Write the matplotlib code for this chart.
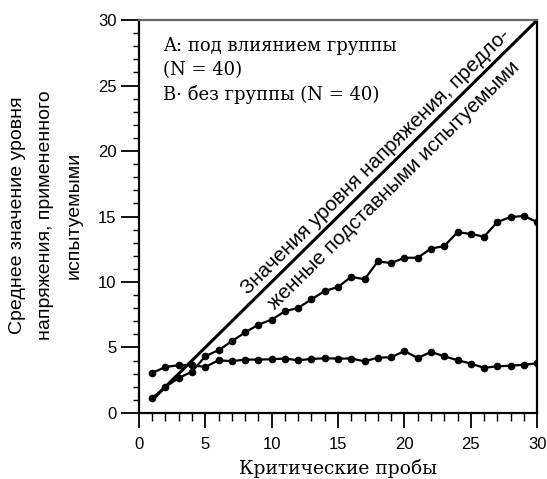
import matplotlib
matplotlib.use("Agg")
from matplotlib import pyplot as plt
from matplotlib.ticker import MultipleLocator

trials = list(range(1, 31))

# mean shock level, group-influenced subjects (A)
group_a = [1.15, 1.98, 2.67, 3.15, 4.33, 4.79, 5.47, 6.15, 6.74, 7.12,
           7.76, 8.02, 8.68, 9.31, 9.62, 10.40, 10.20, 11.58, 11.44, 11.85,
           11.85, 12.55, 12.74, 13.80, 13.67, 13.46, 14.58, 14.96, 15.04, 14.58]

# mean shock level, no group (B)
group_b = [3.05, 3.51, 3.64, 3.64, 3.51, 4.02, 3.95, 4.07, 4.07, 4.10,
           4.15, 4.02, 4.12, 4.17, 4.15, 4.15, 3.94, 4.22, 4.25, 4.72,
           4.20, 4.65, 4.33, 4.02, 3.77, 3.44, 3.56, 3.60, 3.68, 3.78]

# levels suggested by the confederates
suggested_x = [1, 30]
suggested_y = [1, 30]

fig = plt.figure(figsize=(5.47, 4.79), dpi=100)
ax = fig.add_axes([0.254, 0.138, 0.728, 0.820])

ax.plot(suggested_x, suggested_y, color="black", lw=2.2)
ax.plot(trials, group_a, color="black", lw=1.6, marker="o", ms=4.5)
ax.plot(trials, group_b, color="black", lw=1.6, marker="o", ms=4.5)

ax.set_xlim(0, 30)
ax.set_ylim(0, 30)
ax.xaxis.set_major_locator(MultipleLocator(5))
ax.xaxis.set_minor_locator(MultipleLocator(1))
ax.yaxis.set_major_locator(MultipleLocator(5))
ax.yaxis.set_minor_locator(MultipleLocator(1))
ax.tick_params(axis="x", which="major", direction="out", length=11,
               width=1.3, labelsize=12, pad=6)
ax.tick_params(axis="x", which="minor", direction="out", length=5.5, width=1)
ax.tick_params(axis="y", which="major", direction="out", length=13,
               width=1.3, labelsize=12, pad=3)
ax.tick_params(axis="y", which="minor", direction="out", length=4.5, width=1)
for lbl in ax.get_xticklabels() + ax.get_yticklabels():
    lbl.set_family("Liberation Sans")

for side in ("left", "bottom", "right"):
    ax.spines[side].set_linewidth(1.6)
ax.spines["top"].set_color("#666666")
ax.spines["top"].set_linewidth(1.6)

ax.text(0.06, 0.957, "A: под влиянием группы\n(N = 40)\nB· без группы (N = 40)",
        transform=ax.transAxes, ha="left", va="top", fontsize=13,
        family="DejaVu Serif", linespacing=1.42)

ax.text(17.8, 19.2, "Значения уровня напряжения, предло-", rotation=44.6,
        rotation_mode="anchor", ha="center", va="center", fontsize=14.8,
        family="Liberation Sans")
ax.text(19.2, 17.4, "женные подставными испытуемыми", rotation=44.6,
        rotation_mode="anchor", ha="center", va="center", fontsize=14.8,
        family="Liberation Sans")

fig.text(338 / 547, 1 - 468 / 479, "Критические пробы", ha="center",
         va="center", fontsize=13.5, family="DejaVu Serif")
fig.text(46 / 547, 1 - 215 / 479,
         "Среднее значение уровня\nнапряжения, примененного\nиспытуемыми",
         rotation=90, ha="center", va="center", fontsize=14,
         family="Liberation Sans", linespacing=1.85)

fig.savefig("out.png", dpi=100)
